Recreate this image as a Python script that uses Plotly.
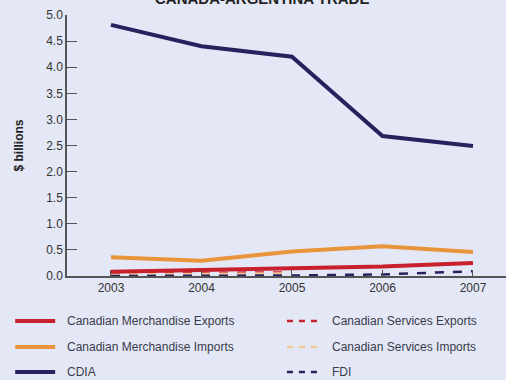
import plotly.graph_objects as go

years = [2003, 2004, 2005, 2006, 2007]
merch_exports = [0.08, 0.12, 0.15, 0.18, 0.25]
merch_imports = [0.36, 0.29, 0.47, 0.57, 0.46]
cdia = [4.81, 4.40, 4.20, 2.68, 2.49]
services_exports = [0.05, 0.06, 0.07, None, None]
services_imports = [0.03, 0.04, 0.05, None, None]
fdi = [0.0, 0.0, 0.01, 0.03, 0.09]

y_ticks = [0, 0.5, 1.0, 1.5, 2.0, 2.5, 3.0, 3.5, 4.0, 4.5, 5.0]
y_labels = ["0.0", "0.5", "1.0", "1.5", "2.0", "2.5", "3.0", "3.5", "4.0", "4.5", "5.0"]

RED = "#c8202c"
ORANGE = "#e8943a"
NAVY = "#27215e"
FONT = "Liberation Sans Narrow, Arial Narrow, Liberation Sans, Arial, sans-serif"

series = [
    ("Canadian Merchandise Exports", merch_exports, RED, "solid"),
    ("Canadian Merchandise Imports", merch_imports, ORANGE, "solid"),
    ("CDIA", cdia, NAVY, "solid"),
    ("Canadian Services Exports", services_exports, RED, "dash"),
    ("Canadian Services Imports", services_imports, "#f1c79a", "dash"),
    ("FDI", fdi, NAVY, "dash"),
]

fig = go.Figure()
# draw dashed series first so the solid lines sit on top
for name, vals, color, dash in sorted(series, key=lambda s: s[3] == "solid"):
    fig.add_trace(go.Scatter(
        x=years, y=vals, name=name, mode="lines",
        line=dict(color=color, width=4 if dash == "solid" else 2.5, dash=dash),
        showlegend=False, cliponaxis=False,
    ))

# two-column legend below the plot (paper coordinates of the plot area)
legend_cols = [(-0.118, -0.027, 0.0), (0.501, 0.581, 0.604)]
legend_rows = [-0.172, -0.272, -0.368]
for i, (name, vals, color, dash) in enumerate(series):
    col, row = divmod(i, 3)
    x0, x1, xt = legend_cols[col]
    fig.add_shape(type="line", xref="paper", yref="paper",
                  x0=x0, x1=x1, y0=legend_rows[row], y1=legend_rows[row],
                  line=dict(color=color, width=4 if dash == "solid" else 2.5,
                            dash="solid" if dash == "solid" else "6px,6px"))
    fig.add_annotation(xref="paper", yref="paper", x=xt,
                       y=legend_rows[row], text=name, showarrow=False,
                       xanchor="left", yanchor="middle", xshift=-2,
                       font=dict(family=FONT, size=12, color="#3a3a4a"))

fig.add_annotation(xref="paper", yref="paper", x=0.444, y=1.063,
                   text="<b>CANADA-ARGENTINA TRADE</b>", showarrow=False,
                   xanchor="center", yanchor="middle",
                   font=dict(family="Liberation Sans, Arial, sans-serif",
                             size=15, color="#222"))

fig.update_layout(
    width=506, height=380,
    margin=dict(l=67, r=0, t=15, b=104),
    paper_bgcolor="#e4e8f6", plot_bgcolor="#e4e8f6",
    font=dict(family=FONT, size=12, color="#333"),
    xaxis=dict(range=[2002.514, 2007.365], tickvals=years,
               ticktext=[str(y) for y in years], showgrid=False,
               zeroline=False, showline=True, linecolor="#555", linewidth=1.5,
               ticks="inside", ticklen=6, tickcolor="#555",
               tickfont=dict(family=FONT, size=12, color="#333")),
    yaxis=dict(range=[0, 5], tickvals=y_ticks, ticktext=y_labels,
               showgrid=False, zeroline=False, showline=True, linecolor="#555",
               linewidth=1.5, ticks="inside", ticklen=10, tickcolor="#555",
               tickfont=dict(family=FONT, size=12, color="#333"),
               title=dict(text="<b>$ billions</b>", standoff=20,
                          font=dict(family=FONT, size=12, color="#222"))),
)

fig.write_html("out.html")
